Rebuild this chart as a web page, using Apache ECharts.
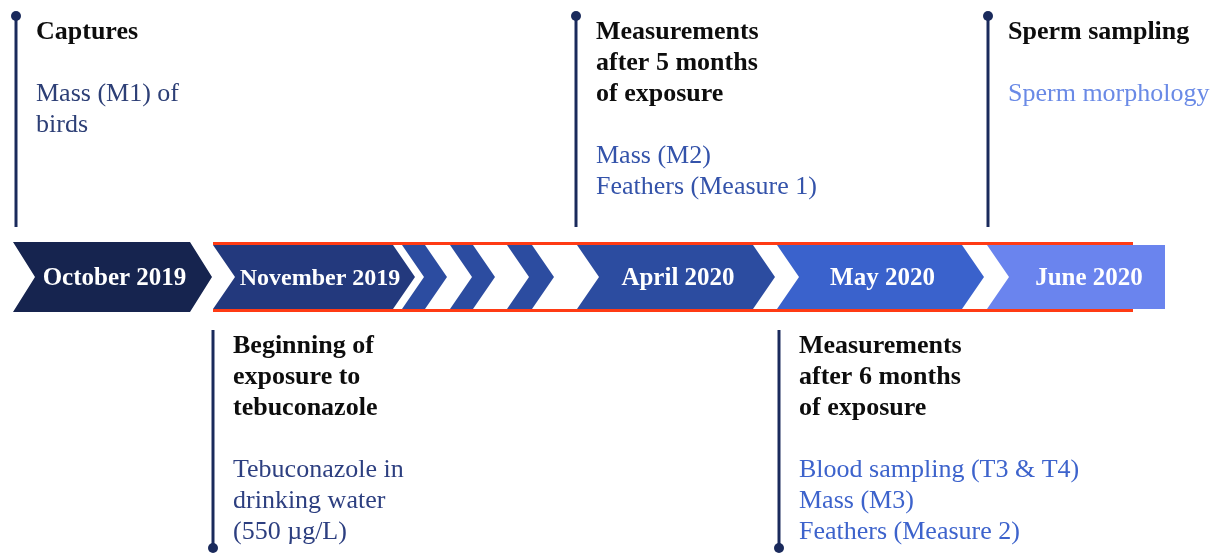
<!DOCTYPE html>
<html>
<head>
<meta charset="utf-8">
<script src="https://cdn.jsdelivr.net/npm/echarts@6/dist/echarts.min.js"></script>
<style>
  html, body { margin: 0; padding: 0; background: #fff; }
  #chart { width: 1217px; height: 554px; }
</style>
</head>
<body>
<div id="chart"></div>
<script>
// ==================== data ====================
// stages of the timeline (start / end along the timeline axis)
var stageLabels = ['October 2019', 'November 2019', '', '', '', 'April 2020', 'May 2020', 'June 2020'];
var stageStart = [13, 213, 402, 450, 507, 577, 777, 987];
var stageEnd = [190, 393, 425, 473, 532, 753, 962, 1165];

// exposure period (red rails)
var exposureRange = [213, 1133];

// events
var eventTitles = [
  'Captures',
  'Beginning of\nexposure to\ntebuconazole',
  'Measurements\nafter 5 months\nof exposure',
  'Measurements\nafter 6 months\nof exposure',
  'Sperm sampling'
];
var eventDetails = [
  'Mass (M1) of\nbirds',
  'Tebuconazole in\ndrinking water\n(550 µg/L)',
  'Mass (M2)\nFeathers (Measure 1)',
  'Blood sampling (T3 & T4)\nMass (M3)\nFeathers (Measure 2)',
  'Sperm morphology'
];
var eventAt = [16, 213, 576, 779, 988];
var eventSide = [1, -1, 1, -1, 1]; // 1 = above the band, -1 = below

// ==================== styles ====================
var stageColors = ['#16244f', '#23397d', '#2c4ca0', '#2c4ca0', '#2c4ca0', '#2c4ca0', '#3a62cc', '#6a84ee'];
var detailColors = ['#2d3f76', '#2d3f80', '#3453aa', '#3d63cc', '#6a8ae6'];
var FONT = '"Liberation Serif", "Times New Roman", serif';
var TIP = 22;       // chevron depth (px)
var LINE_H = 31;    // text line height
var stemColor = '#1a2a5c';

var myChart = echarts.init(document.getElementById('chart'));

function renderStage(params, api) {
  var i = params.dataIndex;
  var s = api.value(0), e = api.value(1);
  var half = s >= exposureRange[0] ? 32 : 35;
  var xs = api.coord([s, 0])[0];
  var xe = api.coord([e, 0])[0];
  var yT = api.coord([0, half])[1];
  var yB = api.coord([0, -half])[1];
  var yM = api.coord([0, 0])[1];
  var pts;
  if (i === stageStart.length - 1) {
    pts = [[xs, yT], [xe, yT], [xe, yB], [xs, yB], [xs + TIP, yM]];
  } else {
    pts = [[xs, yT], [xe, yT], [xe + TIP, yM], [xe, yB], [xs, yB], [xs + TIP, yM]];
  }
  var children = [{
    type: 'polygon',
    shape: { points: pts },
    style: { fill: stageColors[i] }
  }];
  if (stageLabels[i]) {
    children.push({
      type: 'text',
      style: {
        text: stageLabels[i],
        x: (xs + xe) / 2 + TIP / 2 + (i === 1 ? 6 : 2),
        y: yM + 2,
        fill: '#fff',
        font: 'bold ' + (i === 1 ? 24 : 25) + 'px ' + FONT,
        align: 'center',
        verticalAlign: 'middle'
      }
    });
  }
  return { type: 'group', children: children };
}

function renderExposure(params, api) {
  var x0 = api.coord([api.value(0), 0])[0];
  var x1 = api.coord([api.value(1), 0])[0];
  var yT = api.coord([0, 32])[1];
  var yB = api.coord([0, -32])[1];
  return {
    type: 'group',
    children: [
      { type: 'rect', shape: { x: x0, y: yT - 3, width: x1 - x0, height: 3 }, style: { fill: '#ff3b14' } },
      { type: 'rect', shape: { x: x0, y: yB, width: x1 - x0, height: 3 }, style: { fill: '#ff3b14' } }
    ]
  };
}

function renderEvent(params, api) {
  var i = params.dataIndex;
  var x = api.coord([api.value(0), 0])[0];
  var side = api.value(1);
  var yNear = api.coord([0, side > 0 ? 50 : -53])[1];
  var yFar = api.coord([0, side > 0 ? 261 : -271])[1];
  var yText = api.coord([0, side > 0 ? 260 : -54])[1];
  var nTitle = eventTitles[i].split('\n').length;
  return {
    type: 'group',
    children: [
      { type: 'line', shape: { x1: x, y1: yNear, x2: x, y2: yFar }, style: { stroke: stemColor, lineWidth: 3 } },
      { type: 'circle', shape: { cx: x, cy: yFar, r: 5 }, style: { fill: stemColor } },
      {
        type: 'text',
        style: {
          text: eventTitles[i], x: x + 20, y: yText,
          fill: '#0d0d0d', font: 'bold 26px ' + FONT,
          lineHeight: LINE_H, verticalAlign: 'top', align: 'left'
        }
      },
      {
        type: 'text',
        style: {
          text: eventDetails[i], x: x + 20, y: yText + (nTitle + 1) * LINE_H,
          fill: detailColors[i], font: '26px ' + FONT,
          lineHeight: LINE_H, verticalAlign: 'top', align: 'left'
        }
      }
    ]
  };
}

var option = {
  animation: false,
  grid: { left: 0, right: 0, top: 0, bottom: 0, containLabel: false },
  xAxis: { type: 'value', min: 0, max: 1217, show: false },
  yAxis: { type: 'value', min: -277, max: 277, show: false },
  series: [
    {
      type: 'custom',
      renderItem: renderStage,
      data: stageStart.map(function (s, i) { return [s, stageEnd[i]]; })
    },
    {
      type: 'custom',
      renderItem: renderExposure,
      data: [exposureRange]
    },
    {
      type: 'custom',
      renderItem: renderEvent,
      data: eventAt.map(function (x, i) { return [x, eventSide[i]]; })
    }
  ]
};
myChart.setOption(option);
</script>
</body>
</html>
